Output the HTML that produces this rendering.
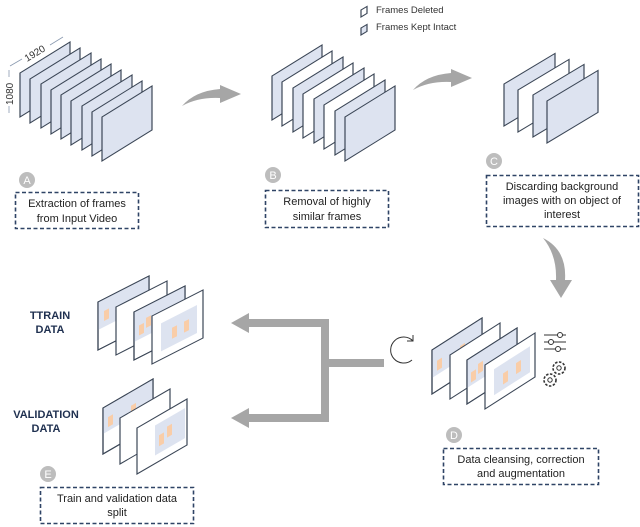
<!DOCTYPE html>
<html><head><meta charset="utf-8"><style>
html,body{margin:0;padding:0;background:#fff;}
svg{display:block;}
text{font-family:"Liberation Sans",sans-serif;}
</style></head><body>
<svg width="640" height="527" viewBox="0 0 640 527" xmlns="http://www.w3.org/2000/svg">
<g stroke="#3b4656" stroke-width="1.2">
<g fill="#dde3f0">
<rect transform="matrix(1,-0.62,0,1,20,73)" width="50" height="44"/>
<rect transform="matrix(1,-0.62,0,1,30,79)" width="50" height="44"/>
<rect transform="matrix(1,-0.62,0,1,41,84)" width="50" height="44"/>
<rect transform="matrix(1,-0.62,0,1,51,90)" width="50" height="44"/>
<rect transform="matrix(1,-0.62,0,1,61,95)" width="50" height="44"/>
<rect transform="matrix(1,-0.62,0,1,71,101)" width="50" height="44"/>
<rect transform="matrix(1,-0.62,0,1,82,106)" width="50" height="44"/>
<rect transform="matrix(1,-0.62,0,1,92,112)" width="50" height="44"/>
<rect transform="matrix(1,-0.62,0,1,102,117)" width="50" height="44"/>
</g>
<rect fill="#dde3f0" transform="matrix(1,-0.62,0,1,272,76)" width="50" height="44"/>
<rect fill="#fff" transform="matrix(1,-0.62,0,1,282,82)" width="50" height="44"/>
<rect fill="#dde3f0" transform="matrix(1,-0.62,0,1,293,88)" width="50" height="44"/>
<rect fill="#fff" transform="matrix(1,-0.62,0,1,303,94)" width="50" height="44"/>
<rect fill="#dde3f0" transform="matrix(1,-0.62,0,1,314,99)" width="50" height="44"/>
<rect fill="#fff" transform="matrix(1,-0.62,0,1,324,105)" width="50" height="44"/>
<rect fill="#dde3f0" transform="matrix(1,-0.62,0,1,335,111)" width="50" height="44"/>
<rect fill="#dde3f0" transform="matrix(1,-0.62,0,1,345,117)" width="50" height="44"/>
<rect fill="#dde3f0" transform="matrix(1,-0.6,0,1,504,84)" width="51" height="42"/>
<rect fill="#fff" transform="matrix(1,-0.6,0,1,518,90)" width="51" height="42"/>
<rect fill="#dde3f0" transform="matrix(1,-0.6,0,1,533,95)" width="51" height="42"/>
<rect fill="#dde3f0" transform="matrix(1,-0.6,0,1,547,101)" width="51" height="42"/>
<rect fill="#fff" transform="matrix(1,-0.6,0,1,361,10)" width="6" height="7"/>
<rect fill="#dde3f0" transform="matrix(1,-0.6,0,1,361,28)" width="6" height="7"/>
</g>
<text x="376" y="13" font-size="9.5" fill="#333">Frames Deleted</text>
<text x="376" y="30" font-size="9.5" fill="#333">Frames Kept Intact</text>

<line x1="10" y1="66" x2="22" y2="59" stroke="#8a9ab0" stroke-width="0.8"/>
<line x1="50" y1="45" x2="63" y2="37" stroke="#8a9ab0" stroke-width="0.8"/>
<text transform="translate(27,62) rotate(-31)" font-size="10" fill="#333">1920</text>
<line x1="9" y1="70" x2="9" y2="77" stroke="#8a9ab0" stroke-width="0.8"/>
<line x1="9" y1="106" x2="9" y2="113" stroke="#8a9ab0" stroke-width="0.8"/>
<text transform="translate(13,105) rotate(-90)" font-size="10" fill="#333">1080</text>

<g fill="#a6a6a6">
<path d="M182,106 Q195,91 220,89 L220,85 L241,94 L220,103 L220,98 Q198,97 182,106 Z"/>
<path transform="translate(231,-16)" d="M182,106 Q195,91 220,89 L220,85 L241,94 L220,103 L220,98 Q198,97 182,106 Z"/>
<path d="M543,238 Q567,250 565,280 L572,280 L561,298 L550,280 L556,280 Q557,255 543,238 Z"/>
</g>

<g fill="#bdbdbd">
<circle cx="27" cy="180" r="8"/><circle cx="273" cy="175" r="8"/><circle cx="494" cy="161" r="8"/>
<circle cx="454" cy="435" r="8"/><circle cx="48" cy="474" r="8"/>
</g>
<g fill="#fff" font-size="11" text-anchor="middle">
<text x="27" y="184">A</text><text x="273" y="179">B</text><text x="494" y="165">C</text>
<text x="454" y="439">D</text><text x="48" y="478">E</text>
</g>

<g fill="none" stroke="#2f4466" stroke-width="1.6" stroke-dasharray="4,2.5">
<rect x="15.5" y="192.5" width="123" height="36"/>
<rect x="265.5" y="190.5" width="123" height="37"/>
<rect x="486.5" y="175.5" width="152" height="51"/>
<rect x="443.5" y="448.5" width="155" height="36"/>
<rect x="40.5" y="487.5" width="153" height="36"/>
</g>
<g font-size="11" fill="#222" text-anchor="middle">
<text x="77" y="207">Extraction of frames</text>
<text x="77" y="222">from Input Video</text>
<text x="327" y="205">Removal of highly</text>
<text x="327" y="220">similar frames</text>
<text x="562" y="190">Discarding background</text>
<text x="562" y="204">images with on object of</text>
<text x="562" y="218">interest</text>
<text x="521" y="463">Data cleansing, correction</text>
<text x="521" y="477">and augmentation</text>
<text x="117" y="502">Train and validation data</text>
<text x="117" y="516">split</text>
</g>

<g font-size="11" font-weight="bold" fill="#1f3050" text-anchor="middle">
<text x="50" y="319">TTRAIN</text><text x="50" y="333">DATA</text>
<text x="46" y="418">VALIDATION</text><text x="46" y="432">DATA</text>
</g>

<g fill="#a6a6a6">
<rect x="321" y="319" width="8" height="103"/>
<rect x="243" y="319" width="86" height="8"/>
<rect x="243" y="414" width="86" height="8"/>
<rect x="321" y="359" width="63" height="8"/>
<polygon points="231,323 249,313 249,333"/>
<polygon points="231,418 249,408 249,428"/>
</g>

<g stroke="#3b4656" stroke-width="1.2">
<g transform="matrix(1,-0.51,0,1,98,302)"><rect width="51" height="48" fill="#fff"/><rect width="51" height="28" fill="#dde3f0" stroke="none"/><rect x="6" y="12" width="5" height="10" fill="#f9cda8" stroke="none"/><rect x="32" y="14" width="5" height="9" fill="#f9cda8" stroke="none"/><rect width="51" height="48" fill="none"/></g>
<g transform="matrix(1,-0.51,0,1,116,307)"><rect width="51" height="48" fill="#fff"/></g>
<g transform="matrix(1,-0.51,0,1,134,312)"><rect width="51" height="48" fill="#fff"/><rect width="51" height="30" fill="#dde3f0" stroke="none"/><rect x="5" y="16" width="5" height="10" fill="#f9cda8" stroke="none"/><rect x="12" y="12" width="5" height="10" fill="#f9cda8" stroke="none"/><rect width="51" height="48" fill="none"/></g>
<g transform="matrix(1,-0.51,0,1,152,316)"><rect width="51" height="48" fill="#fff"/><rect x="9" y="12" width="36" height="28" fill="#dde3f0" stroke="none"/><rect x="20" y="22" width="5" height="11" fill="#f9cda8" stroke="none"/><rect x="32" y="22" width="5" height="11" fill="#f9cda8" stroke="none"/></g>
<g transform="matrix(1,-0.58,0,1,103,408)"><rect width="50" height="46" fill="#fff"/><rect width="50" height="26" fill="#dde3f0" stroke="none"/><rect x="5" y="12" width="5" height="10" fill="#f9cda8" stroke="none"/><rect x="28" y="14" width="5" height="10" fill="#f9cda8" stroke="none"/><rect width="50" height="46" fill="none"/></g>
<g transform="matrix(1,-0.58,0,1,120,418)"><rect width="50" height="46" fill="#fff"/></g>
<g transform="matrix(1,-0.58,0,1,137,428)"><rect width="50" height="46" fill="#fff"/><rect x="18" y="8" width="30" height="30" fill="#dde3f0" stroke="none"/><rect x="22" y="20" width="5" height="11" fill="#f9cda8" stroke="none"/><rect x="30" y="16" width="5" height="11" fill="#f9cda8" stroke="none"/></g>
<g transform="matrix(1,-0.64,0,1,432,350)"><rect width="50" height="44" fill="#fff"/><rect width="50" height="28" fill="#dde3f0" stroke="none"/><rect x="5" y="14" width="5" height="10" fill="#f9cda8" stroke="none"/><rect x="28" y="14" width="5" height="10" fill="#f9cda8" stroke="none"/><rect width="50" height="44" fill="none"/></g>
<g transform="matrix(1,-0.64,0,1,450,355)"><rect width="50" height="44" fill="#fff"/></g>
<g transform="matrix(1,-0.64,0,1,467,360)"><rect width="50" height="44" fill="#fff"/><rect width="50" height="28" fill="#dde3f0" stroke="none"/><rect x="4" y="15" width="5" height="10" fill="#f9cda8" stroke="none"/><rect x="11" y="11" width="5" height="10" fill="#f9cda8" stroke="none"/><rect width="50" height="44" fill="none"/></g>
<g transform="matrix(1,-0.64,0,1,485,365)"><rect width="50" height="44" fill="#fff"/><rect x="9" y="10" width="36" height="26" fill="#dde3f0" stroke="none"/><rect x="18" y="20" width="5" height="11" fill="#f9cda8" stroke="none"/><rect x="31" y="18" width="5" height="11" fill="#f9cda8" stroke="none"/></g>
</g>

<g fill="none" stroke="#333" stroke-width="1">
<path d="M413,341 A13,13 0 1 0 412,360"/>
<polyline points="407,341 413,341 413,335"/>
<line x1="544" y1="335" x2="566" y2="335"/><circle cx="560" cy="335" r="2.5" fill="#fff"/>
<line x1="544" y1="342" x2="566" y2="342"/><circle cx="551" cy="342" r="2.5" fill="#fff"/>
<line x1="544" y1="349" x2="566" y2="349"/><circle cx="558" cy="349" r="2.5" fill="#fff"/>
<circle cx="559" cy="368" r="6" stroke-dasharray="2.5,1.5" stroke-width="1.6"/><circle cx="559" cy="368" r="2.2"/>
<circle cx="550" cy="380" r="6" stroke-dasharray="2.5,1.5" stroke-width="1.6"/><circle cx="550" cy="380" r="2.2"/>
</g>
</svg>
</body></html>
